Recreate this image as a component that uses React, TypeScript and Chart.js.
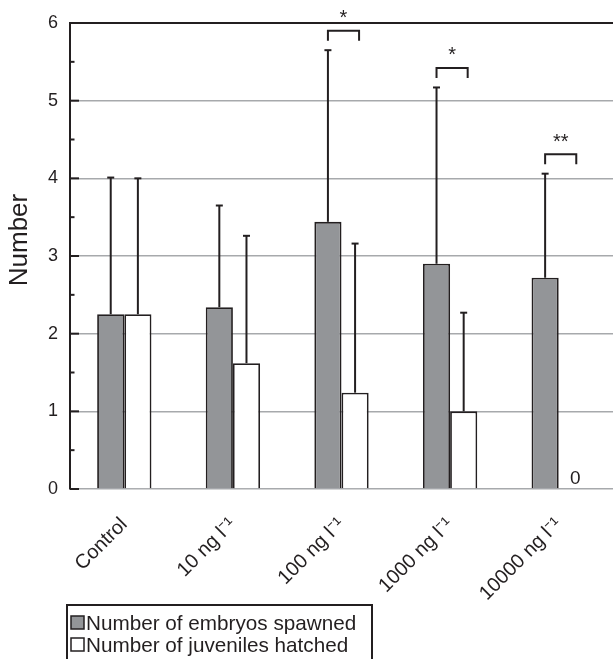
import React, { useEffect, useRef } from "react";
import { Chart, registerables } from "chart.js";

Chart.register(...registerables);

const categories = ["Control", "10 ng l\u207B\u00B9", "100 ng l\u207B\u00B9", "1000 ng l\u207B\u00B9", "10000 ng l\u207B\u00B9"];
const embryos = [2.25, 2.34, 3.44, 2.9, 2.72];
const embryosSd = [1.76, 1.31, 2.21, 2.27, 1.34];
const juveniles = [2.25, 1.62, 1.24, 1.0, 0];
const juvenilesSd = [1.75, 1.64, 1.92, 1.27, 0];
const significance = ["", "", "*", "*", "**"];
const yTicks = [0, 1, 2, 3, 4, 5, 6];
const seriesNames = ["Number of embryos spawned", "Number of juveniles hatched"];
const yTitle = "Number";

const INK = "#231f20";
const GREY = "#939598";
const GRID = "#a7a9ac";
const FONT = "'Liberation Sans', Arial, Helvetica, sans-serif";

const overlay = {
  id: "overlay",
  afterDatasetsDraw(chart: any) {
    const ctx = chart.ctx as CanvasRenderingContext2D;
    const y = chart.scales.y;
    const area = chart.chartArea;
    const m0 = chart.getDatasetMeta(0);
    const m1 = chart.getDatasetMeta(1);
    const line = (x1: number, y1: number, x2: number, y2: number) => {
      ctx.beginPath();
      ctx.moveTo(x1, y1);
      ctx.lineTo(x2, y2);
      ctx.stroke();
    };
    ctx.save();
    ctx.strokeStyle = INK;
    ctx.lineWidth = 2;
    ctx.lineCap = "butt";

    // inner tick marks
    for (let v = 0; v <= 6.001; v += 0.5) {
      const py = y.getPixelForValue(v);
      const len = Math.abs(v - Math.round(v)) < 0.01 ? 9 : 4.5;
      line(area.left, py, area.left + len, py);
    }

    // error bars
    const sets: [any, number[], number[]][] = [
      [m0, embryos, embryosSd],
      [m1, juveniles, juvenilesSd],
    ];
    sets.forEach(([meta, vals, sds]) => {
      meta.data.forEach((bar: any, i: number) => {
        if (!sds[i]) return;
        const x = bar.x;
        const yb = y.getPixelForValue(vals[i]);
        const yt = y.getPixelForValue(vals[i] + sds[i]);
        ctx.lineWidth = 2;
        line(x, yb, x, yt);
        line(x - 3.5, yt, x + 3.5, yt);
      });
    });

    // significance brackets
    ctx.fillStyle = INK;
    ctx.font = `20px ${FONT}`;
    ctx.textAlign = "center";
    ctx.textBaseline = "alphabetic";
    significance.forEach((s, i) => {
      if (!s) return;
      const x1 = m0.data[i].x;
      const x2 = m1.data[i].x + 4;
      const top = y.getPixelForValue(embryos[i] + embryosSd[i]) - 19.5;
      ctx.lineWidth = 2;
      ctx.beginPath();
      ctx.moveTo(x1, top + 10);
      ctx.lineTo(x1, top);
      ctx.lineTo(x2, top);
      ctx.lineTo(x2, top + 10);
      ctx.stroke();
      ctx.fillText(s, (x1 + x2) / 2, top - 6.5);
    });

    // zero label
    ctx.font = `19px ${FONT}`;
    juveniles.forEach((v, i) => {
      if (v === 0) {
        const bar = m1.data[i];
        ctx.fillText("0", bar.x + 3, y.getPixelForValue(0) - 5);
      }
    });

    // y title
    ctx.save();
    ctx.translate(27, (area.top + area.bottom) / 2 - 16);
    ctx.rotate(-Math.PI / 2);
    ctx.font = `26px ${FONT}`;
    ctx.textAlign = "center";
    ctx.textBaseline = "alphabetic";
    ctx.fillText(yTitle, 0, 0);
    ctx.restore();

    // legend
    const lx = 67;
    const ly = 605;
    ctx.lineWidth = 2;
    ctx.strokeRect(lx, ly, 305, 80);
    ctx.font = `20.7px ${FONT}`;
    ctx.textAlign = "left";
    const fills = [GREY, "#ffffff"];
    seriesNames.forEach((name, i) => {
      const by = ly + 11 + i * 22;
      ctx.fillStyle = fills[i];
      ctx.fillRect(lx + 4, by, 13, 13);
      ctx.lineWidth = 1.5;
      ctx.strokeStyle = INK;
      ctx.strokeRect(lx + 4, by, 13, 13);
      ctx.fillStyle = INK;
      ctx.fillText(name, lx + 19, by + 13.5);
    });
    ctx.restore();
  },
};

export default function App() {
  const ref = useRef<HTMLCanvasElement | null>(null);
  useEffect(() => {
    if (!ref.current) return;
    const chart = new Chart(ref.current, {
      type: "bar",
      data: {
        labels: categories,
        datasets: [
          {
            label: seriesNames[0],
            data: embryos,
            backgroundColor: GREY,
            borderColor: INK,
            borderWidth: 1.8,
            borderSkipped: "start",
            categoryPercentage: 0.5,
            barPercentage: 1.0,
          },
          {
            label: seriesNames[1],
            data: juveniles,
            backgroundColor: "#ffffff",
            borderColor: INK,
            borderWidth: 1.8,
            borderSkipped: "start",
            categoryPercentage: 0.5,
            barPercentage: 1.0,
          },
        ],
      },
      options: {
        responsive: false,
        animation: false,
        layout: { padding: { top: 23, left: 0, right: 0, bottom: 0 } },
        plugins: { legend: { display: false }, tooltip: { enabled: false } },
        scales: {
          x: {
            grid: { display: false },
            border: { display: false },
            ticks: {
              minRotation: 45,
              maxRotation: 45,
              color: INK,
              padding: 16,
              font: { family: FONT, size: 20 },
            },
            afterFit: (s: any) => {
              s.height = 170;
            },
          },
          y: {
            min: 0,
            max: 6,
            afterBuildTicks: (s: any) => {
              s.ticks = yTicks.map((v) => ({ value: v }));
            },
            ticks: {
              color: INK,
              padding: 12,
              font: { family: FONT, size: 18 },
            },
            grid: {
              drawTicks: false,
              color: (c: any) => (c.tick && c.tick.value === 6 ? INK : GRID),
              lineWidth: (c: any) => (c.tick && c.tick.value === 6 ? 2 : 1.5),
            },
            border: { display: true, color: INK, width: 2 },
            title: { display: false },
            afterFit: (s: any) => {
              s.width = 70;
            },
          },
        },
      },
      plugins: [overlay],
    });
    return () => chart.destroy();
  }, []);
  return (
    <div style={{ position: "fixed", left: 0, top: 0, width: 613, height: 659, background: "#fff" }}>
      <canvas ref={ref} width={613} height={659} style={{ display: "block" }} />
    </div>
  );
}
